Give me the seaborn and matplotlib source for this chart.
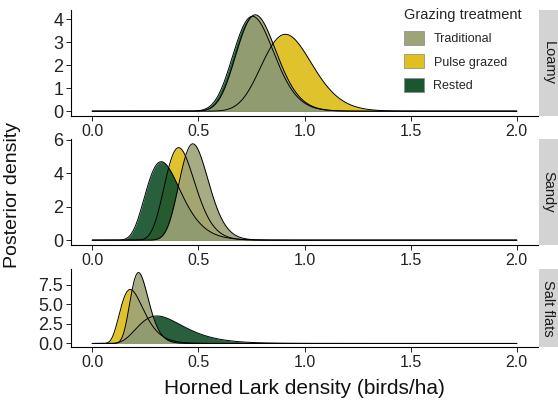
import numpy as np
import pandas as pd
import matplotlib
matplotlib.use("Agg")
import matplotlib.pyplot as plt
import seaborn as sns
from matplotlib.patches import Patch, Rectangle

# --- values ---
soils = ["Loamy", "Sandy", "Salt flats"]
treatments = ["Traditional", "Pulse grazed", "Rested"]
# posterior mode (birds/ha) per soil, order = treatments
modes = {
    "Loamy":      [0.768, 0.910, 0.755],
    "Sandy":      [0.474, 0.407, 0.325],
    "Salt flats": [0.218, 0.179, 0.305],
}
# log-scale spread of each (lognormal) posterior
spreads = {
    "Loamy":      [0.123, 0.130, 0.127],
    "Sandy":      [0.145, 0.175, 0.254],
    "Salt flats": [0.198, 0.308, 0.350],
}
y_ticks = {
    "Loamy": [0, 1, 2, 3, 4],
    "Sandy": [0, 2, 4, 6],
    "Salt flats": [0.0, 2.5, 5.0, 7.5],
}
x_ticks = [0.0, 0.5, 1.0, 1.5, 2.0]

colors = {"Traditional": "#9ea378", "Pulse grazed": "#dfc020", "Rested": "#1c5631"}
alphas = {"Traditional": 0.9, "Pulse grazed": 0.95, "Rested": 0.95}
draw_order = ["Pulse grazed", "Rested", "Traditional"]


def lognorm_pdf(x, mode, s):
    mu = np.log(mode) + s ** 2
    out = np.zeros_like(x)
    pos = x > 0
    out[pos] = np.exp(-(np.log(x[pos]) - mu) ** 2 / (2 * s ** 2)) / (x[pos] * s * np.sqrt(2 * np.pi))
    return out


grid = np.linspace(0, 2, 801)
rows = []
for soil in soils:
    for t, m, s in zip(treatments, modes[soil], spreads[soil]):
        rows.append(pd.DataFrame({"soil": soil, "treatment": t, "x": grid,
                                  "density": lognorm_pdf(grid, m, s)}))
df = pd.concat(rows, ignore_index=True)

sns.set_theme(style="ticks")
plt.rcParams["font.family"] = ["Liberation Sans", "DejaVu Sans"]

fig = plt.figure(figsize=(5.58, 4.03), dpi=100)
W, H = 558, 403
# panel boxes in pixels: (left, top, right, bottom)
boxes = [(71, 10, 538, 116), (71, 139, 538, 245), (71, 269, 538, 347)]

for soil, (l, t, r, b) in zip(soils, boxes):
    ax = fig.add_axes([l / W, (H - b) / H, (r - l) / W, (b - t) / H])
    sub = df[df.soil == soil]
    for trt in draw_order:
        d = sub[sub.treatment == trt]
        ax.fill_between(d.x, d.density, 0, color=colors[trt], alpha=alphas[trt], lw=0)
    sns.lineplot(data=sub, x="x", y="density", units="treatment", estimator=None,
                 color="black", lw=0.7, ax=ax, legend=False)
    ymax = sub.density.max()
    ax.set_xlim(-0.1, 2.1)
    ax.set_ylim(-0.05 * ymax, 1.05 * ymax)
    ax.set_xticks(x_ticks)
    ax.set_xticklabels([f"{v:.1f}" for v in x_ticks])
    yt = y_ticks[soil]
    ax.set_yticks(yt)
    ax.set_yticklabels([f"{v:.1f}" if soil == "Salt flats" else f"{v:g}" for v in yt])
    ax.set_xlabel("")
    ax.set_ylabel("")
    ax.tick_params(length=3.5, width=0.7, colors="#222222", pad=2)
    ax.tick_params(axis="x", labelsize=11.5)
    ax.tick_params(axis="y", labelsize=13)
    for side in ["top", "right"]:
        ax.spines[side].set_visible(False)
    for side in ["left", "bottom"]:
        ax.spines[side].set_linewidth(0.8)
        ax.spines[side].set_color("black")
    # facet strip on the right
    fig.patches.append(Rectangle(((r + 1) / W, (H - b) / H), (W - r - 1) / W, (b - t) / H,
                                 transform=fig.transFigure, facecolor="#d3d3d3",
                                 edgecolor="none"))
    fig.text((r + 1 + (W - r - 1) / 2) / W, (H - (t + b) / 2) / H, soil, rotation=-90,
             ha="center", va="center", fontsize=10.5, color="#1a1a1a")

fig.text(304 / W, (H - 388) / H, "Horned Lark density (birds/ha)", ha="center",
         va="center", fontsize=15, color="#111111")
fig.text(13 / W, (H - 195) / H, "Posterior density", rotation=90, ha="center",
         va="center", fontsize=14, color="#111111")

handles = [Patch(facecolor=colors[t], edgecolor="#888888", lw=0.5, label=t) for t in treatments]
leg = fig.legend(handles=handles, title="Grazing treatment", loc="upper left",
                 bbox_to_anchor=(396 / W, 1.0), frameon=False, fontsize=9,
                 title_fontsize=10.5, handlelength=1.6, handleheight=1.35,
                 labelspacing=0.75, handletextpad=0.8, borderaxespad=0.2)
leg._legend_box.align = "left"

fig.savefig("out.png", dpi=100)
